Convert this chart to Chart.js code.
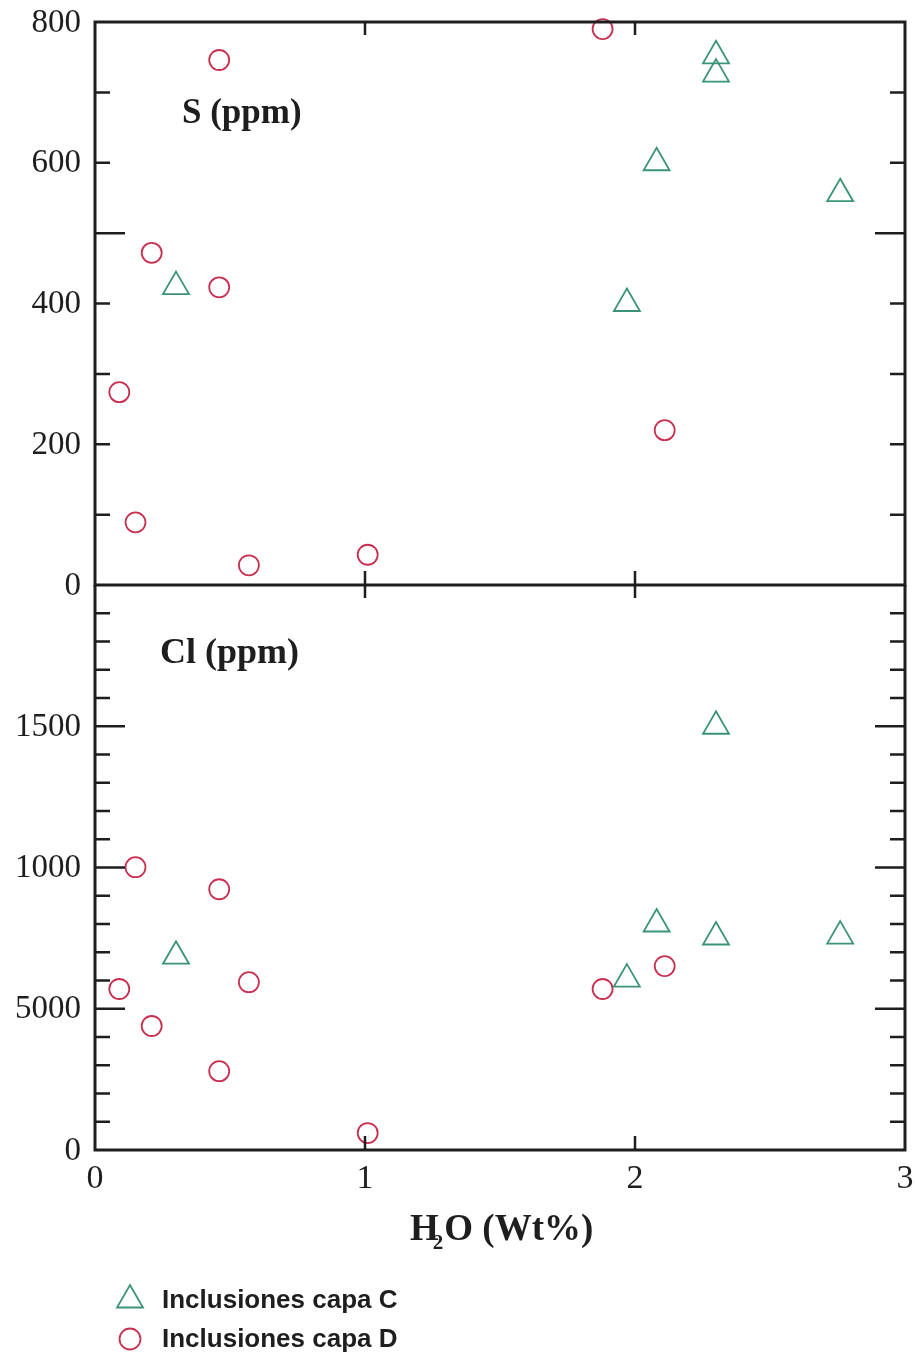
<!DOCTYPE html>
<html>
<head>
<meta charset="utf-8">
<script src="https://cdn.jsdelivr.net/npm/chart.js@4.4.1/dist/chart.umd.min.js"></script>
<style>
  body { margin: 0; background: #fff; }
  #page { position: relative; width: 915px; height: 1359px; overflow: hidden; background: #fff; }
  #chartS { position: absolute; left: 0; top: 0; }
  #chartCl { position: absolute; left: 0; top: 570px; }
</style>
</head>
<body>
<div id="page">
  <canvas id="chartS" width="915" height="600"></canvas>
  <canvas id="chartCl" width="915" height="789"></canvas>
</div>
<script>
// ====== データ ======
// Inclusiones capa C (triangles)
const waterC = [0.30, 1.97, 2.08, 2.30, 2.30, 2.76];
const sulfurC = [424, 400, 600, 752, 726, 556];
const chlorineC = [686, 605, 800, 1500, 754, 757];

// Inclusiones capa D (circles)
const waterD = [0.09, 0.15, 0.21, 0.46, 0.46, 0.57, 1.01, 1.88, 2.11];
const sulfurD = [274, 89, 472, 746, 423, 28, 43, 790, 220];
const chlorineD = [570, 1001, 439, 923, 279, 594, 60, 570, 651];

// 目盛り
const xTicks = [0, 1, 2, 3];
const sTicks = [0, 200, 400, 600, 800];
const sTickLabels = ['0', '200', '400', '600', '800'];
const clTicks = [0, 500, 1000, 1500];
const clTickLabels = ['0', '5000', '1000', '1500'];

const seriesNames = ['Inclusiones capa C', 'Inclusiones capa D'];

const GREEN = '#3b9478';
const RED = '#c83052';
const INK = '#1e1e1e';
const SERIF = '"Liberation Serif", "DejaVu Serif", serif';

function toPoints(xs, ys) {
    return xs.map((x, i) => ({ x: x, y: ys[i] }));
}

// 枠・目盛り・ラベルを描くプラグイン
function framePlugin(opts) {
    return {
        id: 'frame_' + opts.id,
        afterDraw(chart) {
            const ctx = chart.ctx;
            const xs = chart.scales.x;
            const ys = chart.scales.y;
            const a = chart.chartArea;
            ctx.save();
            ctx.strokeStyle = INK;
            ctx.fillStyle = INK;

            // 枠（下段は上辺を描かない＝上段の下辺と共有）
            ctx.lineWidth = 3;
            ctx.beginPath();
            if (opts.id === 'S') {
                ctx.moveTo(a.left, a.bottom); ctx.lineTo(a.left, a.top);
                ctx.lineTo(a.right, a.top); ctx.lineTo(a.right, a.bottom);
                ctx.lineTo(a.left - 1.5, a.bottom);
            } else {
                ctx.moveTo(a.left, a.top); ctx.lineTo(a.left, a.bottom);
                ctx.lineTo(a.right, a.bottom); ctx.lineTo(a.right, a.top);
            }
            ctx.stroke();

            // y の目盛り（100ごと、500ごとに長い）
            ctx.lineWidth = 2.5;
            for (let v = ys.min + 100; v < ys.max; v += 100) {
                const py = ys.getPixelForValue(v);
                const len = (v % 500 === 0) ? 30 : 15;
                ctx.beginPath();
                ctx.moveTo(a.left, py); ctx.lineTo(a.left + len, py);
                ctx.moveTo(a.right, py); ctx.lineTo(a.right - len, py);
                ctx.stroke();
            }

            // x の目盛り
            xTicks.forEach(v => {
                if (v === xs.min || v === xs.max) return;
                const px = xs.getPixelForValue(v);
                ctx.beginPath();
                ctx.moveTo(px, a.top); ctx.lineTo(px, a.top + 13);
                ctx.moveTo(px, a.bottom); ctx.lineTo(px, a.bottom - 14);
                ctx.stroke();
            });

            // y ラベル
            ctx.font = '33px ' + SERIF;
            ctx.textAlign = 'right';
            ctx.textBaseline = 'middle';
            opts.ticks.forEach((v, i) => {
                ctx.fillText(opts.labels[i], a.left - 14, ys.getPixelForValue(v) + 1);
            });

            // パネル名
            ctx.font = 'bold ' + opts.titleSize + 'px ' + SERIF;
            ctx.textAlign = 'left';
            ctx.textBaseline = 'alphabetic';
            ctx.fillText(opts.title, opts.titleX, opts.titleY);

            if (opts.id === 'Cl') {
                // x ラベル
                ctx.font = '34px ' + SERIF;
                ctx.textAlign = 'center';
                ctx.textBaseline = 'top';
                xTicks.forEach(v => {
                    ctx.fillText(String(v), xs.getPixelForValue(v), a.bottom + 12);
                });

                // x 軸タイトル H2O (Wt%)
                ctx.textAlign = 'left';
                ctx.textBaseline = 'alphabetic';
                const base = a.bottom + 90;
                let x0 = 410;
                ctx.font = 'bold 37px ' + SERIF;
                ctx.fillText('H', x0, base);
                x0 += ctx.measureText('H').width;
                ctx.font = 'bold 21px ' + SERIF;
                ctx.fillText('2', x0 - 6, base + 9);
                x0 += ctx.measureText('2').width - 5;
                ctx.font = 'bold 37px ' + SERIF;
                ctx.fillText('O (Wt%)', x0, base);

                // 凡例
                const items = [
                    { name: seriesNames[0], color: GREEN, shape: 'tri', y: a.bottom + 150 },
                    { name: seriesNames[1], color: RED, shape: 'circ', y: a.bottom + 189 }
                ];
                items.forEach(it => {
                    ctx.strokeStyle = it.color;
                    ctx.lineWidth = 1.8;
                    ctx.beginPath();
                    if (it.shape === 'tri') {
                        const r = 15;
                        ctx.moveTo(130, it.y - r);
                        ctx.lineTo(130 + r * 0.866, it.y + r * 0.5);
                        ctx.lineTo(130 - r * 0.866, it.y + r * 0.5);
                        ctx.closePath();
                    } else {
                        ctx.arc(130, it.y, 10.5, 0, Math.PI * 2);
                    }
                    ctx.stroke();
                    ctx.fillStyle = INK;
                    ctx.font = 'bold 26px "Liberation Sans", Arial, sans-serif';
                    ctx.textBaseline = 'middle';
                    ctx.fillText(it.name, 162, it.y + 1);
                });
            }
            ctx.restore();
        }
    };
}

function makeChart(canvasId, ysC, ysD, yMax, padding, opts) {
    const ctx = document.getElementById(canvasId).getContext('2d');
    return new Chart(ctx, {
        type: 'scatter',
        data: {
            datasets: [
                {
                    label: seriesNames[0],
                    data: toPoints(waterC, ysC),
                    pointStyle: 'triangle',
                    pointRadius: 15,
                    pointHoverRadius: 15,
                    borderColor: GREEN,
                    backgroundColor: 'rgba(0,0,0,0)',
                    pointBorderWidth: 1.8,
                    clip: false
                },
                {
                    label: seriesNames[1],
                    data: toPoints(waterD, ysD),
                    pointStyle: 'circle',
                    pointRadius: 10,
                    pointHoverRadius: 10,
                    borderColor: RED,
                    backgroundColor: 'rgba(0,0,0,0)',
                    pointBorderWidth: 1.8,
                    clip: false
                }
            ]
        },
        options: {
            responsive: false,
            animation: false,
            layout: { padding: padding, autoPadding: false },
            plugins: { legend: { display: false }, tooltip: { enabled: false } },
            scales: {
                x: { type: 'linear', min: 0, max: 3, display: false },
                y: { type: 'linear', min: 0, max: yMax, display: false }
            }
        },
        plugins: [framePlugin(opts)]
    });
}

// 上段 S (ppm)
makeChart('chartS', sulfurC, sulfurD, 800,
    { left: 95, right: 10, top: 22, bottom: 15 },
    { id: 'S', ticks: sTicks, labels: sTickLabels, title: 'S (ppm)', titleSize: 35, titleX: 182, titleY: 123 });

// 下段 Cl (ppm)
makeChart('chartCl', chlorineC, chlorineD, 2000,
    { left: 95, right: 10, top: 15, bottom: 209 },
    { id: 'Cl', ticks: clTicks, labels: clTickLabels, title: 'Cl (ppm)', titleSize: 36, titleX: 160, titleY: 93 });
</script>
</body>
</html>
